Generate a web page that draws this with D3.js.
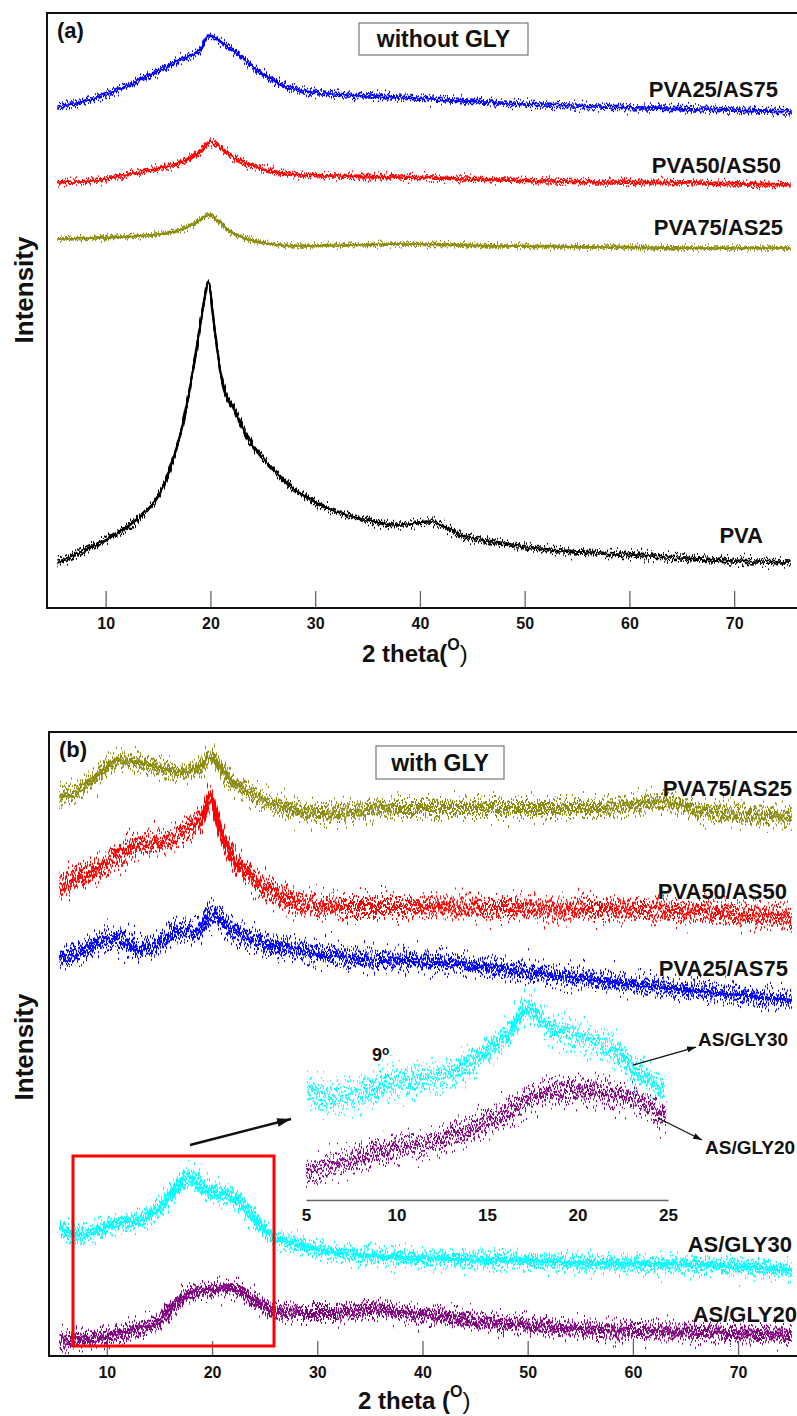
<!DOCTYPE html>
<html>
<head>
<meta charset="utf-8">
<script src="https://cdn.jsdelivr.net/npm/d3@7/dist/d3.min.js"></script>
<style>
	body { margin: 0; background: #fff; }
	text { font-family: "Liberation Sans", Arial, sans-serif; font-weight: bold; fill: #111; }
</style>
</head>
<body>
<div id="js-xrd"></div>
<script>
// ---- data: [2theta (deg), intensity (a.u., stacked)] ----
const twoThetaTicks = [10, 20, 30, 40, 50, 60, 70];
const insetTicks = [5, 10, 15, 20, 25];

// (a) without GLY
const aPVA25AS75 = [[5.4, 501], [9.4, 511], [14.2, 533], [17.1, 548], [19.0, 558], [19.8, 572], [22.1, 558], [24.7, 536], [26.9, 523], [28.5, 518], [31.7, 514], [38.0, 511], [47.7, 505], [57.3, 501], [66.7, 499], [75.5, 496]];
const aPVA50AS50 = [[5.4, 425], [9.4, 428], [14.2, 438], [17.1, 445], [19.0, 456], [20.0, 466], [22.1, 451], [24.7, 440], [28.5, 433], [38.0, 431], [47.6, 428], [57.1, 426], [66.7, 425], [75.4, 423]];
const aPVA75AS25 = [[5.4, 369], [9.4, 370], [14.2, 373], [17.1, 378], [19.0, 388], [19.7, 393], [22.1, 375], [24.7, 366], [28.5, 362], [38.0, 364], [47.6, 362], [57.1, 361], [66.7, 360], [75.4, 360]];
const aPVA = [[5.4, 46], [9.4, 65], [12.6, 85], [14.9, 110], [15.6, 124], [16.1, 138], [17.5, 190], [18.5, 248], [19.3, 300], [19.8, 326], [20.4, 278], [21.1, 228], [22.3, 198], [23.7, 168], [25.6, 143], [27.5, 123], [31.6, 98], [34.9, 88], [38.0, 83], [40.9, 86], [44.4, 71], [47.6, 65], [52.4, 58], [57.1, 55], [63.5, 51], [69.8, 47], [75.4, 45]];

// (b) with GLY
const bPVA75AS25 = [[5.5, 559], [7.7, 568], [9.3, 583], [11.2, 596], [13.1, 593], [15.0, 588], [16.9, 584], [18.8, 589], [19.8, 599], [21.4, 579], [23.6, 563], [26.7, 549], [30.0, 543], [34.7, 546], [37.9, 548], [47.4, 548], [56.9, 548], [62.9, 554], [66.4, 546], [75.1, 539]];
const bPVA50AS50 = [[5.5, 469], [9.3, 489], [12.5, 509], [15.7, 516], [17.6, 526], [19.1, 539], [19.8, 559], [20.7, 529], [22.0, 499], [23.6, 479], [25.8, 463], [28.4, 453], [33.1, 449], [37.9, 449], [47.4, 448], [56.9, 447], [66.4, 444], [75.1, 438]];
const bPVA25AS75 = [[5.5, 398], [7.9, 406], [10.3, 418], [11.7, 414], [13.1, 406], [15.0, 413], [16.9, 426], [18.4, 424], [20.0, 441], [21.7, 428], [24.5, 413], [28.4, 406], [33.1, 398], [42.6, 393], [52.1, 381], [61.6, 370], [66.1, 365], [75.1, 356]];
const bASGLY30 = [[5.5, 128], [7.4, 121], [9.3, 126], [11.2, 133], [13.1, 136], [15.0, 149], [16.7, 169], [17.6, 179], [19.5, 166], [22.0, 159], [23.9, 139], [25.8, 119], [28.4, 111], [31.5, 104], [37.6, 99], [47.4, 96], [56.9, 93], [66.4, 91], [75.1, 86]];
const bASGLY20 = [[5.5, 14], [9.3, 19], [12.5, 26], [15.0, 36], [16.9, 56], [19.5, 66], [22.0, 68], [23.9, 56], [25.8, 46], [28.4, 43], [31.5, 43], [35.0, 47], [37.9, 44], [42.6, 39], [47.4, 33], [56.9, 26], [66.4, 24], [75.1, 21]];

// inset: 5-25 deg zoom of the AS/GLY films
const insetASGLY30 = [[5.06, 110], [6.5, 103], [8.0, 107], [9.6, 117], [11.1, 120], [13.0, 127], [14.8, 147], [16.3, 170], [17.2, 192], [18.5, 173], [20.3, 163], [22.2, 147], [23.6, 123], [24.8, 110]];
const insetASGLY20 = [[5.0, 27], [7.4, 40], [10.0, 52], [12.0, 57], [13.9, 70], [15.7, 83], [17.5, 103], [19.4, 110], [21.2, 108], [23.1, 100], [24.9, 83]];

// ---- layout ----
const W = 797, H = 1416;
const svg = d3.select('#js-xrd').append('svg').attr('width', W).attr('height', H);
const defs = svg.append('defs');

// arrow heads
function marker(id, len, wid) {
	defs.append('marker')
		.attr('id', id)
		.attr('markerUnits', 'userSpaceOnUse')
		.attr('viewBox', `0 0 ${len} ${wid}`)
		.attr('refX', len).attr('refY', wid / 2)
		.attr('markerWidth', len).attr('markerHeight', wid)
		.attr('orient', 'auto')
		.append('path')
		.attr('d', `M0,0L${len},${wid / 2}L0,${wid}Z`)
		.attr('fill', '#111');
}
marker('arrow-s', 9, 6);
marker('arrow-l', 14, 9);

// measurement noise is a drawing style: vertical jitter from an svg filter
let seed = 3;
function noise(amp, n) {
	const id = `noise-${seed}`;
	const f = defs.append('filter').attr('id', id)
		.attr('filterUnits', 'userSpaceOnUse')
		.attr('x', 0).attr('y', 0).attr('width', W).attr('height', H)
		.attr('color-interpolation-filters', 'sRGB');
	const copies = d3.range(n);
	copies.forEach(i => {
		const k = i / (n - 1);
		f.append('feTurbulence').attr('type', 'fractalNoise')
			.attr('baseFrequency', `${0.5 + k * 0.8} 0.004`).attr('numOctaves', 2)
			.attr('seed', seed + i * 11).attr('result', `t${i}`);
		f.append('feColorMatrix').attr('in', `t${i}`).attr('type', 'matrix')
			.attr('values', '0 0 0 0 0.5  0 1 0 0 0  0 0 0 0 0  0 0 0 0 1')
			.attr('result', `m${i}`);
		f.append('feDisplacementMap').attr('in', 'SourceGraphic').attr('in2', `m${i}`)
			.attr('scale', amp * (4 + 6 * k)).attr('xChannelSelector', 'R').attr('yChannelSelector', 'G')
			.attr('result', `d${i}`);
	});
	const m = f.append('feMerge');
	copies.forEach(i => m.append('feMergeNode').attr('in', `d${i}`));
	seed += 5;
	return `url(#${id})`;
}

function panel(cfg) {
	const x = d3.scaleLinear().domain(cfg.xDomain).range([cfg.left, cfg.right]);
	const y = d3.scaleLinear().domain([0, cfg.bottom - cfg.top]).range([cfg.bottom, cfg.top]);
	const g = svg.append('g').attr('class', `panel-${cfg.name}`);

	// ticks + labels
	g.append('g')
		.attr('transform', `translate(0,${cfg.bottom})`)
		.call(d3.axisBottom(x).tickValues(twoThetaTicks).tickSize(-cfg.tick).tickSizeOuter(0).tickPadding(cfg.pad).tickFormat(d3.format('d')))
		.call(a => a.select('.domain').remove())
		.call(a => a.selectAll('line').attr('stroke', '#666').attr('stroke-width', 1.3))
		.call(a => a.selectAll('text').attr('font-size', 16).attr('font-family', null).attr('fill', '#111'));

	// traces
	const line = d3.line().x(d => x(d[0])).y(d => y(d[1])).curve(d3.curveMonotoneX);
	cfg.series.forEach(s => {
		g.append('path')
			.attr('d', line(s.data))
			.attr('fill', 'none')
			.attr('stroke', s.color)
			.attr('stroke-width', s.w)
			.attr('filter', noise(s.amp, cfg.copies));
		g.append('text')
			.attr('x', s.label[0]).attr('y', s.label[1])
			.attr('text-anchor', 'end')
			.attr('font-size', 22)
			.text(s.name);
	});

	// frame
	g.append('rect')
		.attr('x', cfg.left).attr('y', cfg.top)
		.attr('width', cfg.right - cfg.left + 3).attr('height', cfg.bottom - cfg.top)
		.attr('fill', 'none').attr('stroke', '#111').attr('stroke-width', 2);

	// panel letter and title box
	g.append('text').attr('x', cfg.left + 10).attr('y', cfg.top + 25).attr('font-size', 22).text(cfg.letter);
	const b = cfg.box;
	g.append('rect').attr('x', b[0]).attr('y', b[1]).attr('width', b[2]).attr('height', b[3])
		.attr('fill', '#fff').attr('stroke', '#777').attr('stroke-width', 1.2);
	g.append('text').attr('x', b[0] + b[2] / 2).attr('y', b[1] + b[3] / 2 + 8)
		.attr('text-anchor', 'middle').attr('font-size', 23).text(cfg.title);

	// axis titles
	g.append('text')
		.attr('transform', `translate(33,${cfg.yTitle}) rotate(-90)`)
		.attr('text-anchor', 'middle').attr('font-size', 26).text('Intensity');
	const xt = g.append('text').attr('x', cfg.xTitle[0]).attr('y', cfg.xTitle[1]).attr('font-size', 24);
	xt.append('tspan').text(cfg.xText);
	xt.append('tspan').attr('font-size', 16).attr('dy', -12).text('O');
	xt.append('tspan').attr('dy', 12).attr('font-weight', 'normal').text(')');

	return { x, y, g };
}

panel({
	name: 'a', letter: '(a)', title: 'without GLY',
	left: 47, right: 797, top: 13, bottom: 608, xDomain: [4.4, 76],
	tick: 17, pad: 10, box: [359, 23, 169, 32], copies: 4,
	yTitle: 290, xTitle: [362, 662], xText: '2 theta(',
	series: [
		{ name: 'PVA25/AS75', data: aPVA25AS75, color: '#0000ff', amp: 2, w: 1.7, label: [778, 97] },
		{ name: 'PVA50/AS50', data: aPVA50AS50, color: '#ff0000', amp: 1.8, w: 1.7, label: [781, 173] },
		{ name: 'PVA75/AS25', data: aPVA75AS25, color: '#8c8c10', amp: 1.7, w: 1.7, label: [783, 235] },
		{ name: 'PVA', data: aPVA, color: '#000000', amp: 2.3, w: 1.7, label: [763, 543] }
	]
});

const pb = panel({
	name: 'b', letter: '(b)', title: 'with GLY',
	left: 49, right: 797, top: 732, bottom: 1356, xDomain: [4.5, 75.6],
	tick: 15, pad: 11, box: [376, 746, 128, 33], copies: 7,
	yTitle: 1047, xTitle: [358, 1409], xText: '2 theta (',
	series: [
		{ name: 'PVA75/AS25', data: bPVA75AS25, color: '#8c8c10', amp: 6, w: 2, label: [792, 796] },
		{ name: 'PVA50/AS50', data: bPVA50AS50, color: '#ff0000', amp: 6.6, w: 2, label: [787, 899] },
		{ name: 'PVA25/AS75', data: bPVA25AS75, color: '#0000ff', amp: 6.6, w: 2, label: [788, 976] },
		{ name: 'AS/GLY30', data: bASGLY30, color: '#00ffff', amp: 5.8, w: 2, label: [792, 1252] },
		{ name: 'AS/GLY20', data: bASGLY20, color: '#800080', amp: 5.2, w: 2, label: [797, 1322] }
	]
});

// highlighted 5-25 deg window
pb.g.append('rect')
	.attr('x', 73).attr('y', 1156).attr('width', 201).attr('height', 190)
	.attr('fill', 'none').attr('stroke', '#ff0000').attr('stroke-width', 3);

// inset
const ix = d3.scaleLinear().domain([5, 25]).range([306, 668]);
const iy = d3.scaleLinear().domain([0, 200]).range([1200, 1000]);
const inset = svg.append('g').attr('class', 'inset');
inset.append('g')
	.attr('transform', 'translate(0,1200)')
	.call(d3.axisBottom(ix).tickValues(insetTicks).tickSize(0).tickPadding(9).tickFormat(d3.format('d')))
	.call(a => a.select('.domain').attr('stroke', '#666').attr('stroke-width', 1.3))
	.call(a => a.selectAll('text').attr('font-size', 17).attr('font-family', null).attr('fill', '#111'));
const iline = d3.line().x(d => ix(d[0])).y(d => iy(d[1])).curve(d3.curveMonotoneX);
[[insetASGLY30, '#00ffff', 9], [insetASGLY20, '#800080', 7.5]].forEach(([data, color, amp]) => {
	inset.append('path').attr('d', iline(data)).attr('fill', 'none')
		.attr('stroke', color).attr('stroke-width', 1.8).attr('filter', noise(amp, 6));
});
inset.append('text').attr('x', 372).attr('y', 1061).attr('font-size', 18)
	.text('9').append('tspan').attr('font-size', 12).attr('dy', -6).text('o');
inset.append('text').attr('x', 698).attr('y', 1046).attr('font-size', 19).text('AS/GLY30');
inset.append('text').attr('x', 705).attr('y', 1154).attr('font-size', 19).text('AS/GLY20');

// arrows
const arrows = [
	[[633, 1065], [696, 1047], 1.3, 'arrow-s'],
	[[658, 1118], [702, 1140], 1.3, 'arrow-s'],
	[[190, 1145], [291, 1119], 2.6, 'arrow-l']
];
arrows.forEach(([p0, p1, w, m]) => {
	svg.append('line')
		.attr('x1', p0[0]).attr('y1', p0[1]).attr('x2', p1[0]).attr('y2', p1[1])
		.attr('stroke', '#111').attr('stroke-width', w)
		.attr('marker-end', `url(#${m})`);
});
</script>
</body>
</html>
